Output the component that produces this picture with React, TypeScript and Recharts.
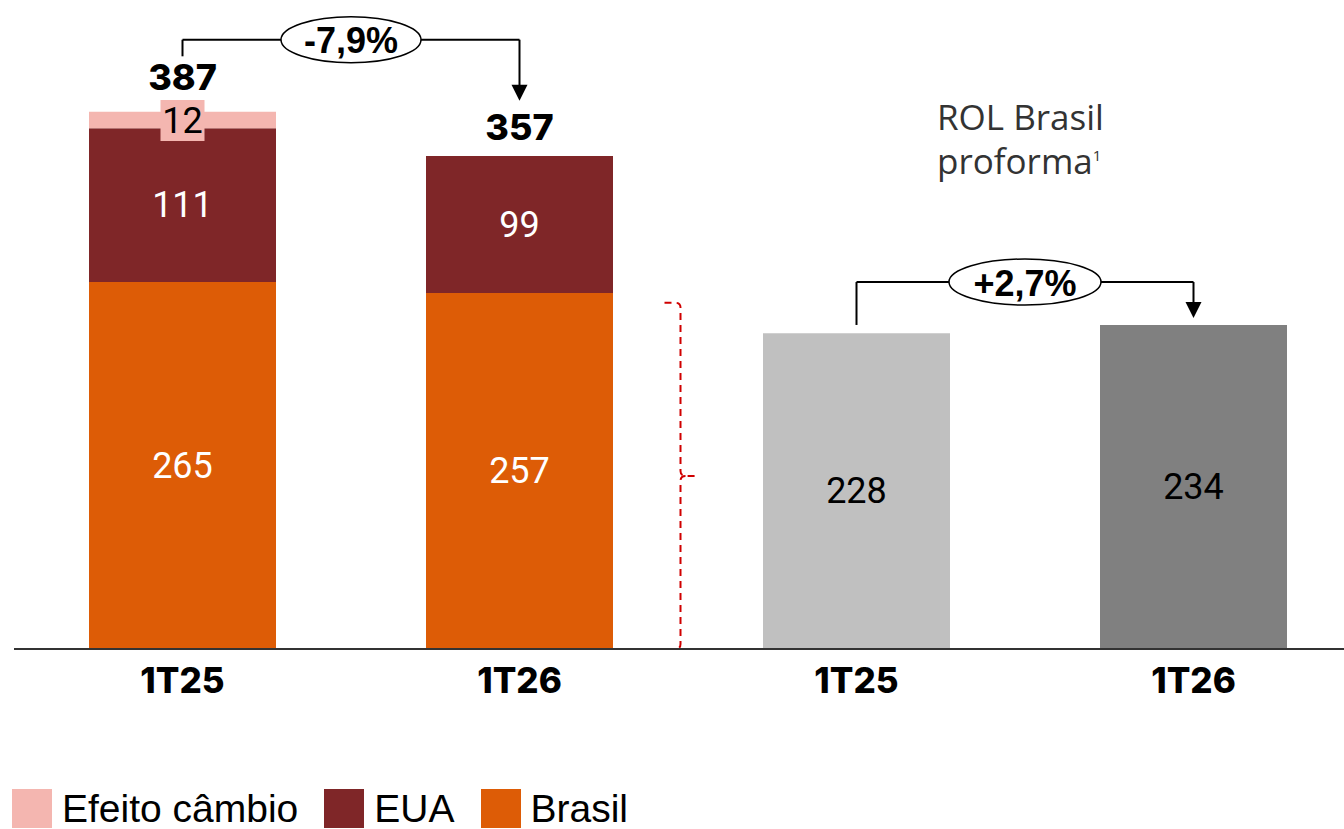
import React from 'react';
import { ComposedChart, Bar, Line, XAxis, YAxis, Cell, LabelList, ReferenceLine, Legend } from 'recharts';

const CATS = ['a', 'b', 'c', 'd'];
const CAT_LABELS = ['1T25', '1T26', '1T25', '1T26'];
const BRASIL = [265, 257, null, null];
const EUA = [111, 99, null, null];
const CAMBIO = [12, null, null, null];
const PROFORMA = [null, null, 228, 234];
const TOTAL = [387, 357, null, null];

const VAR_LEFT = '-7,9%';
const VAR_RIGHT = '+2,7%';

const COLORS = { cambio: '#F4B6B0', eua: '#7F2628', brasil: '#DD5C06' };
const PROFORMA_COLORS = ['#C0C0C0', '#C0C0C0', '#C0C0C0', '#808080'];
const PROFORMA_LABEL_COLORS = ['#000', '#000', '#111', '#FFFFFF'];
const TOTAL_OFFSETS = [-36, -28, 0, 0];

const LEGEND_ITEMS = [
  { name: 'Efeito câmbio', color: COLORS.cambio },
  { name: 'EUA', color: COLORS.eua },
  { name: 'Brasil', color: COLORS.brasil },
];

const data = CATS.map((k, i) => ({
  key: k,
  brasil: BRASIL[i],
  eua: EUA[i],
  cambio: CAMBIO[i],
  proforma: PROFORMA[i],
  total: TOTAL[i],
}));

const VALUE_FONT = 'Roboto, "Open Sans", sans-serif';
const BOLD_FONT = 'Inter, "Open Sans", sans-serif';
const ARIAL = '"Liberation Sans", Arial, sans-serif';

const centerLabel = (colorFn: (i: number) => string) => (props: any) => {
  const { value, index } = props;
  if (value == null) return null;
  const vb = props.viewBox || {};
  const x = props.x ?? vb.x;
  const y = props.y ?? vb.y;
  const w = props.width ?? vb.width;
  const h = props.height ?? vb.height;
  return (
    <text x={x + w / 2} y={y + h / 2} textAnchor="middle" dominantBaseline="central"
      fill={colorFn(index)} fontFamily={VALUE_FONT} fontSize={36}>{value}</text>
  );
};

const cambioLabel = (props: any) => {
  const { value } = props;
  if (value == null) return null;
  const vb = props.viewBox || {};
  const x = props.x ?? vb.x;
  const y = props.y ?? vb.y;
  const w = props.width ?? vb.width;
  const h = props.height ?? vb.height;
  const cx = x + w / 2;
  const cy = y + h / 2;
  return (
    <g>
      <rect x={cx - 22} y={cy - 20} width={44} height={41} fill={COLORS.cambio} />
      <text x={cx} y={cy + 1} textAnchor="middle" dominantBaseline="central"
        fill="#000" fontFamily={VALUE_FONT} fontSize={36}>{value}</text>
    </g>
  );
};

const totalLabel = (props: any) => {
  const { value, index, x, y } = props;
  if (value == null || x == null || y == null) return null;
  return (
    <text x={x} y={y + TOTAL_OFFSETS[index]} textAnchor="middle" dominantBaseline="central"
      fill="#000" fontFamily={BOLD_FONT} fontWeight={800} fontSize={36}>{value}</text>
  );
};

const stubShape = (props: any) => (
  <line x1={props.x1} y1={props.y1} x2={props.x2} y2={props.y2} stroke="#000" strokeWidth={2} />
);

const arrowShape = (props: any) => {
  const { x1, y1, x2, y2 } = props;
  return (
    <g>
      <line x1={x1} y1={y1} x2={x2} y2={y2 - 14} stroke="#000" strokeWidth={2} />
      <polygon points={`${x2 - 8},${y2 - 16} ${x2 + 8},${y2 - 16} ${x2},${y2}`} fill="#000" />
    </g>
  );
};

const bridgeShape = (text: string, rx: number) => (props: any) => {
  const { x1, y1, x2, y2 } = props;
  const cx = (x1 + x2) / 2;
  const cy = (y1 + y2) / 2;
  return (
    <g>
      <line x1={x1} y1={y1} x2={x2} y2={y2} stroke="#000" strokeWidth={2} />
      <ellipse cx={cx} cy={cy} rx={rx} ry={23} fill="#fff" stroke="#000" strokeWidth={1.5} />
      <text x={cx} y={cy + 1} textAnchor="middle" dominantBaseline="central" fill="#000"
        fontFamily={ARIAL} fontWeight={700} fontSize={36}>{text}</text>
    </g>
  );
};

const braceShape = (props: any) => {
  const { x1, y1, y2 } = props;
  const x = x1 + 161;
  const yTop = Math.min(y1, y2);
  const yBot = Math.max(y1, y2);
  const yMid = (yTop + yBot) / 2;
  const d = `M ${x - 16} ${yTop} L ${x - 5} ${yTop} Q ${x} ${yTop} ${x} ${yTop + 5} L ${x} ${yMid - 5} Q ${x} ${yMid} ${x + 5} ${yMid} L ${x + 16} ${yMid} M ${x + 5} ${yMid} Q ${x} ${yMid} ${x} ${yMid + 5} L ${x} ${yBot - 5} Q ${x} ${yBot} ${x - 5} ${yBot} L ${x - 16} ${yBot}`;
  return <path d={d} fill="none" stroke="#D00000" strokeWidth={2} strokeDasharray="7 5" />;
};

const legendContent = () => (
  <div style={{ display: 'flex', alignItems: 'center', fontFamily: ARIAL, fontSize: 39, color: '#000', whiteSpace: 'nowrap' }}>
    {LEGEND_ITEMS.map((it) => (
      <div key={it.name} style={{ display: 'flex', alignItems: 'center', marginRight: 26 }}>
        <div style={{ width: 40, height: 39, background: it.color, marginRight: 10 }} />
        <span style={{ lineHeight: '36px' }}>{it.name}</span>
      </div>
    ))}
  </div>
);

export default function App() {
  return (
    <div style={{ position: 'absolute', left: 0, top: 0, width: 1344, height: 829, overflow: 'hidden', background: '#fff' }}>
      <ComposedChart width={1362} height={829} data={data} margin={{ top: 12, right: 0, left: 14, bottom: 120 }}>
        <XAxis dataKey="key" interval={0} tickLine={false} axisLine={{ stroke: '#333', strokeWidth: 2 }}
          tickMargin={13} height={60}
          tickFormatter={(_v: any, i: number) => CAT_LABELS[i]}
          tick={{ fontFamily: BOLD_FONT, fontWeight: 800, fontSize: 35, fill: '#000' }} />
        <YAxis hide type="number" domain={[0, 460]} allowDataOverflow />
        <Bar dataKey="brasil" stackId="s" fill={COLORS.brasil} barSize={187} isAnimationActive={false}>
          <LabelList dataKey="brasil" content={centerLabel(() => '#fff')} />
        </Bar>
        <Bar dataKey="eua" stackId="s" fill={COLORS.eua} barSize={187} isAnimationActive={false}>
          <LabelList dataKey="eua" content={centerLabel(() => '#fff')} />
        </Bar>
        <Bar dataKey="cambio" stackId="s" fill={COLORS.cambio} barSize={187} isAnimationActive={false}>
          <LabelList dataKey="cambio" content={cambioLabel} />
        </Bar>
        <Bar dataKey="proforma" stackId="s" barSize={187} isAnimationActive={false}>
          {data.map((d, i) => <Cell key={d.key} fill={PROFORMA_COLORS[i]} />)}
          <LabelList dataKey="proforma" content={centerLabel((i) => PROFORMA_LABEL_COLORS[i])} />
        </Bar>
        <Line dataKey="total" stroke="none" dot={false} activeDot={false} legendType="none" isAnimationActive={false}>
          <LabelList dataKey="total" content={totalLabel} />
        </Line>
        <ReferenceLine segment={[{ x: 'a', y: 428 }, { x: 'a', y: 440 }]} shape={stubShape} />
        <ReferenceLine segment={[{ x: 'b', y: 440 }, { x: 'b', y: 396 }]} shape={arrowShape} />
        <ReferenceLine segment={[{ x: 'a', y: 440 }, { x: 'b', y: 440 }]} shape={bridgeShape(VAR_LEFT, 70)} />
        <ReferenceLine segment={[{ x: 'c', y: 234 }, { x: 'c', y: 265 }]} shape={stubShape} />
        <ReferenceLine segment={[{ x: 'd', y: 265 }, { x: 'd', y: 239 }]} shape={arrowShape} />
        <ReferenceLine segment={[{ x: 'c', y: 265 }, { x: 'd', y: 265 }]} shape={bridgeShape(VAR_RIGHT, 76)} />
        <ReferenceLine segment={[{ x: 'b', y: 0 }, { x: 'b', y: 250 }]} shape={braceShape} />
        <Legend layout="horizontal" verticalAlign="middle" align="center" content={legendContent}
          wrapperStyle={{ position: 'absolute', left: 12, top: 789, width: 'auto', height: 39 }} />
      </ComposedChart>
      <div style={{ position: 'absolute', left: 937, top: 98, fontFamily: '"Open Sans", sans-serif', fontSize: 35, lineHeight: '38px', color: '#333' }}>
        ROL Brasil<br />proforma<span style={{ fontSize: 15, verticalAlign: 'super' }}>1</span>
      </div>
    </div>
  );
}
